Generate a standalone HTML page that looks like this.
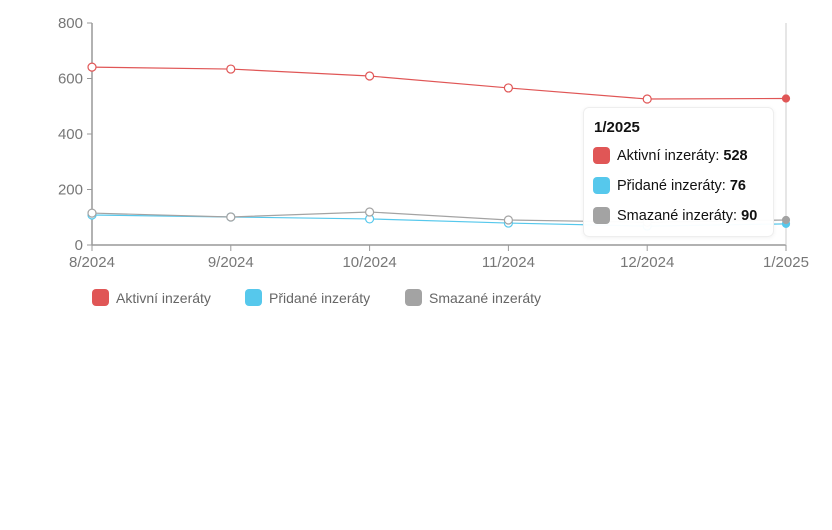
<!DOCTYPE html>
<html><head><meta charset="utf-8"><style>
body{margin:0;background:#fff;font-family:"Liberation Sans",sans-serif;}
#wrap{position:relative;width:832px;height:530px;overflow:hidden;}
svg text{font-family:"Liberation Sans",sans-serif;}
.tip{position:absolute;left:583px;top:107px;width:189px;height:128px;background:rgba(255,255,255,0.96);border:1px solid #eee;border-radius:6px;box-shadow:0 1px 4px rgba(0,0,0,0.06);font-size:14.5px;color:#111;}
.tip .t{position:absolute;left:10px;top:11px;font-weight:bold;font-size:15px;}
.tip .r{position:absolute;left:9px;display:flex;align-items:center;}
.tip .sw{width:17px;height:17px;border-radius:4px;margin-right:7px;}
.leg{position:absolute;top:289px;display:flex;align-items:center;font-size:14px;color:#666;}
.leg .sw{width:17px;height:17px;border-radius:4px;margin-right:7px;}
</style></head><body>
<div id="wrap">
<svg id="chart" width="832" height="530"></svg>
<div class="leg" style="left:92px"><div class="sw" style="background:#e05656"></div>Aktivní inzeráty</div>
<div class="leg" style="left:245px"><div class="sw" style="background:#56c8ec"></div>Přidané inzeráty</div>
<div class="leg" style="left:405px"><div class="sw" style="background:#a3a3a3"></div>Smazané inzeráty</div>
<div class="tip">
<div class="t">1/2025</div>
<div class="r" style="top:39px"><div class="sw" style="background:#e05656"></div>Aktivní inzeráty:&nbsp;<b>528</b></div>
<div class="r" style="top:69px"><div class="sw" style="background:#56c8ec"></div>Přidané inzeráty:&nbsp;<b>76</b></div>
<div class="r" style="top:99px"><div class="sw" style="background:#a3a3a3"></div>Smazané inzeráty:&nbsp;<b>90</b></div>
</div>
</div>
<script>
const categories=["8/2024","9/2024","10/2024","11/2024","12/2024","1/2025"];
const aktivni=[641,634,609,566,526,528];
const pridane=[108,101,94,79,68,76];
const smazane=[115,101,119,90,82,90];
const yTicks=[0,200,400,600,800];
const NS="http://www.w3.org/2000/svg";
const svg=document.getElementById('chart');
const x0=92,x1=786,yB=245,yT=23,yMax=800;
const xs=i=>x0+i*(x1-x0)/(categories.length-1);
const ys=v=>yB-v/yMax*(yB-yT);
function mk(t,a){const e=document.createElementNS(NS,t);for(const k in a)e.setAttribute(k,a[k]);svg.appendChild(e);return e;}
// axes
let e=mk('line',{x1:x0,y1:yT,x2:x0,y2:yB,stroke:'#999','stroke-width':1.5});


e=mk('line',{x1:x0,y1:yB,x2:x1,y2:yB,stroke:'#999','stroke-width':1.5});


e=mk('line',{x1:x1,y1:yT,x2:x1,y2:yB,stroke:'#ccc','stroke-width':1});


yTicks.forEach(v=>{
 const l=mk('line',{x1:x0-5,y1:ys(v),x2:x0,y2:ys(v),stroke:'#999'});
 
 
 const t=mk('text',{x:x0-9,y:ys(v)+5,'text-anchor':'end','font-size':15,fill:'#777'});
 t.textContent=v;
 
 
});
categories.forEach((c,i)=>{
 const l=mk('line',{x1:xs(i),y1:yB,x2:xs(i),y2:yB+6,stroke:'#999'});
 
 
 const t=mk('text',{x:xs(i),y:yB+22,'text-anchor':'middle','font-size':15,fill:'#777'});
 t.textContent=c;
 
 
});
function series(data,color,name){
 const p=mk('polyline',{points:data.map((v,i)=>xs(i)+','+ys(v)).join(' '),fill:'none',stroke:color,'stroke-width':1.2});
 
 
 data.forEach((v,i)=>{
  const last=i===data.length-1;
  const c=mk('circle',{cx:xs(i),cy:ys(v),r:last?3.5:4,fill:last?color:'#fff',stroke:color,'stroke-width':1.2});
  
  
 });
}
series(pridane,'#56c8ec','pridane');
series(smazane,'#a3a3a3','smazane');
series(aktivni,'#e05656','aktivni');
</script>
</body></html>
